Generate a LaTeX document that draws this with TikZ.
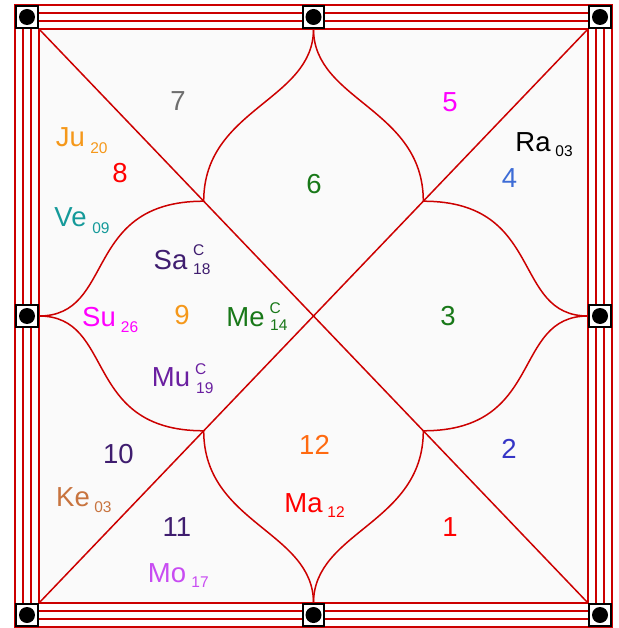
\documentclass[tikz,border=0pt]{standalone}
\usepackage{fontspec}
\setmainfont{Liberation Sans}
\definecolor{chartred}{HTML}{CC0000}
\definecolor{bgfill}{HTML}{FAFAFA}
\definecolor{cgray}{HTML}{6E6E6E}
\definecolor{cmag}{HTML}{FF00FF}
\definecolor{cgreen}{HTML}{187818}
\definecolor{cred}{HTML}{FF0000}
\definecolor{croyal}{HTML}{3D6CD6}
\definecolor{cblue}{HTML}{3535C6}
\definecolor{corange}{HTML}{F5981A}
\definecolor{cindigo}{HTML}{3F1D6F}
\definecolor{cpurple}{HTML}{6A1FA0}
\definecolor{cteal}{HTML}{159A9A}
\definecolor{cbrown}{HTML}{C8743F}
\definecolor{cviolet}{HTML}{C84CF2}
\definecolor{cdorange}{HTML}{FF6A10}
\begin{document}
\begin{tikzpicture}[x=1pt,y=-1pt,
  chart/.style={draw=chartred, line width=1.5pt},
  border/.style={draw=chartred, line width=1.3pt},
  lbl/.style={font=\fontsize{27.5}{30}\selectfont, inner sep=0pt},
  sml/.style={font=\fontsize{15.5}{17}\selectfont, inner sep=0pt},
  pin/.style={draw=black, line width=2pt, fill=white, minimum size=21.5pt, inner sep=0pt},
]
\useasboundingbox (0,0) rectangle (618,628);
\fill[white] (0,0) rectangle (618,628);
\fill[bgfill] (39,29) rectangle (588,603);
\draw[chartred, line width=2.4pt] (15,5) rectangle (612,627);
\draw[border] (23,13) rectangle (604,619);
\draw[border] (31,21) rectangle (596,611);
\draw[border] (39,29) rectangle (588,603);

\coordinate (TL) at (39,29);
\coordinate (TR) at (588,29);
\coordinate (BL) at (39,603);
\coordinate (BR) at (588,603);
\coordinate (T) at (313.5,29);
\coordinate (B) at (313.5,603);
\coordinate (L) at (39,316);
\coordinate (R) at (588,316);
\coordinate (JTL) at (203.7,201.2);
\coordinate (JTR) at (423.3,201.2);
\coordinate (JBL) at (203.7,430.8);
\coordinate (JBR) at (423.3,430.8);

\draw[chart] (TL) -- (BR);
\draw[chart] (TR) -- (BL);

\draw[chart] (T) .. controls (313.5,101) and (203.7,108.2) .. (JTL);
\draw[chart] (T) .. controls (313.5,101) and (423.3,108.2) .. (JTR);
\draw[chart] (B) .. controls (313.5,531) and (203.7,523.8) .. (JBL);
\draw[chart] (B) .. controls (313.5,531) and (423.3,523.8) .. (JBR);
\draw[chart] (L) .. controls (116,316) and (81.7,201.2) .. (JTL);
\draw[chart] (L) .. controls (116,316) and (81.7,430.8) .. (JBL);
\draw[chart] (R) .. controls (511,316) and (545.3,201.2) .. (JTR);
\draw[chart] (R) .. controls (511,316) and (545.3,430.8) .. (JBR);

\foreach \n/\px/\py in {p1/27/17, p2/313.5/17, p3/600/17, p4/27/316, p5/600/316, p6/27/615, p7/313.5/615, p8/600/615}{
  \node[pin] (\n) at (\px,\py) {};
  \fill[black] (\n.center) circle (8pt);
}

% house numbers
\node[lbl, text=cgray] (h7) at (178,101) {7};
\node[lbl, text=cmag] (h5) at (450,102) {5};
\node[lbl, text=cgreen] (h6) at (314,184) {6};
\node[lbl, text=cred] (h8) at (120,173) {8};
\node[lbl, text=croyal] (h4) at (509.5,178) {4};
\node[lbl, text=corange] (h9) at (182,315) {9};
\node[lbl, text=cgreen] (h3) at (448,316) {3};
\node[lbl, text=cindigo] (h10) at (118.5,454.5) {10};
\node[lbl, text=cblue] (h2) at (509,449) {2};
\node[lbl, text=cdorange] (h12) at (314.5,444.5) {12};
\node[lbl, text=cindigo] (h11) at (177,527) {11};
\node[lbl, text=cred] (h1) at (450,527) {1};

% planets
\node[lbl, text=corange] (ju) at (70.5,137.5) {Ju};
\node[sml, text=corange] (jud) at (99,148) {20};
\node[lbl, text=cteal] (ve) at (70.5,217.5) {Ve};
\node[sml, text=cteal] (ved) at (101,228.5) {09};
\node[lbl, text=cindigo] (sa) at (170.5,260) {Sa};
\node[sml, text=cindigo, anchor=west] (sac) at (193,250.5) {C};
\node[sml, text=cindigo, anchor=west] (sad) at (193,269.5) {18};
\node[lbl, text=cmag] (su) at (99,317.5) {Su};
\node[sml, text=cmag] (sud) at (129.5,327.5) {26};
\node[lbl, text=cgreen] (me) at (245.5,317.5) {Me};
\node[sml, text=cgreen, anchor=west] (mec) at (269.5,308) {C};
\node[sml, text=cgreen, anchor=west] (med) at (270,325) {14};
\node[lbl, text=cpurple] (mu) at (171,377) {Mu};
\node[sml, text=cpurple, anchor=west] (muc) at (195,369) {C};
\node[sml, text=cpurple, anchor=west] (mud) at (196,388) {19};
\node[lbl, text=black] (ra) at (533,142.5) {Ra};
\node[sml, text=black] (rad) at (564,151.5) {03};
\node[lbl, text=cbrown] (ke) at (73,497.5) {Ke};
\node[sml, text=cbrown] (ked) at (103,507.5) {03};
\node[lbl, text=cviolet] (mo) at (167,573.5) {Mo};
\node[sml, text=cviolet] (mod) at (200,582.5) {17};
\node[lbl, text=cred] (ma) at (303.5,503) {Ma};
\node[sml, text=cred] (mad) at (336,512.5) {12};
\end{tikzpicture}
\end{document}
